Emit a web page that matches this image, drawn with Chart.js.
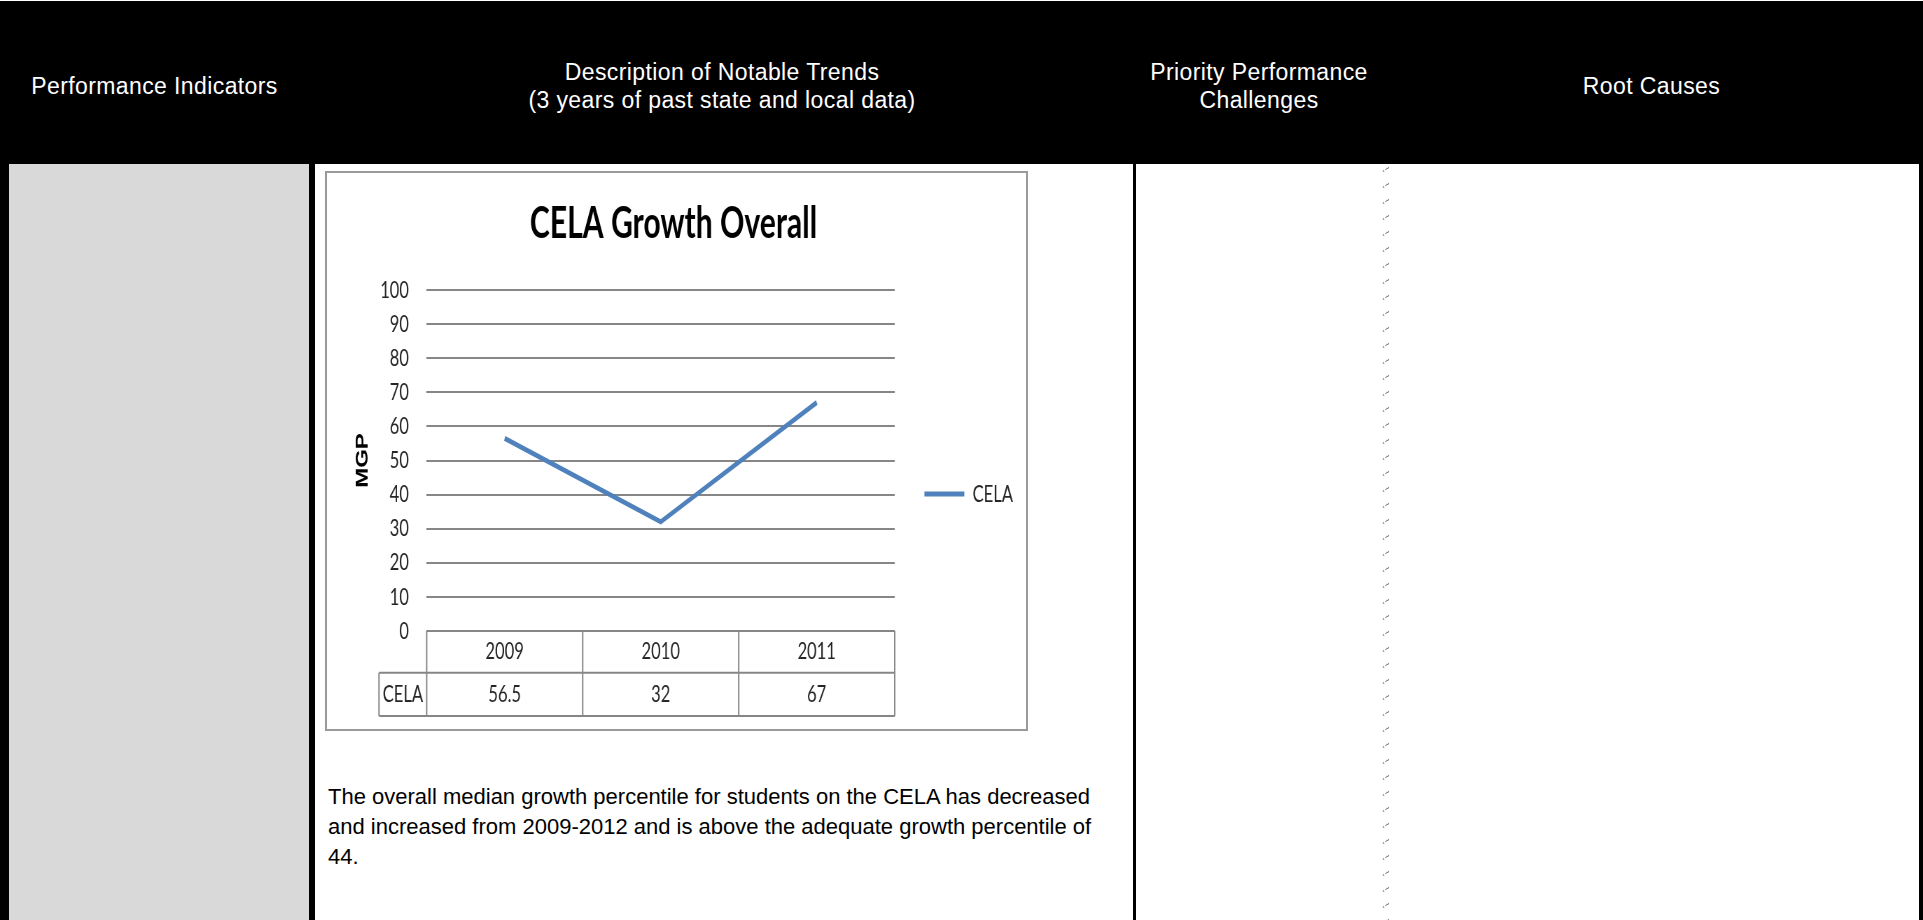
<!DOCTYPE html>
<html>
<head>
<meta charset="utf-8">
<title>CELA Growth Overall</title>
<script src="https://cdn.jsdelivr.net/npm/chart.js@4.4.1/dist/chart.umd.min.js"></script>
<style>
  html, body { margin: 0; padding: 0; background: #fff; }
  body { width: 1923px; height: 920px; position: relative; overflow: hidden;
         font-family: "Liberation Sans", Arial, sans-serif; }
  .abs { position: absolute; }
  .hdr { left: 0; top: 1px; width: 1923px; height: 163px; background: #000; }
  .hcell { position: absolute; top: 0; height: 163px; display: flex; align-items: center;
           justify-content: center; text-align: center; color: #fff; font-size: 23px;
           letter-spacing: 0.4px; line-height: 28px; padding-top: 6px; box-sizing: border-box; }
  .black { background: #000; }
  .grey { background: #d9d9d9; }
  .dots { left: 1382px; top: 164px; width: 8px; height: 756px;
          background-image: url("data:image/svg+xml;utf8,<svg xmlns='http://www.w3.org/2000/svg' width='8' height='16'><circle cx='1.5' cy='7' r='0.8' fill='%23777'/><path d='M3.5 5.5 L7 3.5' stroke='%23666' stroke-width='1'/></svg>");
          background-repeat: repeat-y; }
  .frame { left: 325px; top: 171px; width: 703px; height: 560px; box-sizing: border-box;
           border: 2px solid #9a9a9a; background: #fff; overflow: hidden; }
  #chart { position: absolute; left: 0; top: 0; transform: scaleX(0.7); transform-origin: 0 0; }
  .para { left: 328px; top: 782px; font-size: 22px; line-height: 30px; color: #000; white-space: nowrap; }
</style>
</head>
<body>
  <!-- header row -->
  <div class="abs hdr">
    <div class="hcell" style="left:0;width:309px;">Performance Indicators</div>
    <div class="hcell" style="left:309px;width:826px;">Description of Notable Trends<br>(3 years of past state and local data)</div>
    <div class="hcell" style="left:1135px;width:248px;">Priority Performance<br>Challenges</div>
    <div class="hcell" style="left:1383px;width:537px;">Root Causes</div>
  </div>

  <!-- body row: cell fills and borders -->
  <div class="abs black" style="left:0;top:164px;width:9px;height:756px;"></div>
  <div class="abs grey" style="left:9px;top:164px;width:300px;height:756px;"></div>
  <div class="abs black" style="left:309px;top:164px;width:6px;height:756px;"></div>
  <div class="abs black" style="left:1133px;top:164px;width:3px;height:756px;"></div>
  <div class="abs dots"></div>
  <div class="abs black" style="left:1919px;top:164px;width:4px;height:756px;"></div>

  <!-- chart -->
  <div class="abs frame">
    <canvas id="chart" width="999" height="556" style="width:999px;height:556px;"></canvas>
  </div>

  <div class="abs para">The overall median growth percentile for students on the CELA has decreased<br>and increased from 2009-2012 and is above the adequate growth percentile of<br>44.</div>

<script>
// Chart data
const years = ['2009', '2010', '2011'];
const celaMgp = [56.5, 32, 67];
const seriesName = 'CELA';
const axisTitle = 'MGP';
const chartTitle = 'CELA Growth Overall';
const yMin = 0;
const yMax = 100;
const yStep = 10;

const TEXT = '#262626';
const RULE = '#868686';
const LINE_BLUE = '#4F81BD';
const bodyFont = { family: 'Lato, "Open Sans", sans-serif', size: 23.7 };

// Excel-style data table drawn under the category axis
const dataTable = {
  id: 'dataTable',
  afterDraw(chart) {
    const { ctx, chartArea: area, scales: { x } } = chart;
    const n = years.length;
    const half = (x.getPixelForValue(1) - x.getPixelForValue(0)) / 2;
    const edges = years.map((_, i) => x.getPixelForValue(i) - half);
    edges.push(x.getPixelForValue(n - 1) + half);
    const y0 = area.bottom;
    const y1 = y0 + 41.7;
    const y2 = y1 + 43.3;
    const labelLeft = 74.3;

    ctx.save();
    ctx.strokeStyle = RULE;
    ctx.lineWidth = 2;
    ctx.beginPath();
    ctx.moveTo(edges[0], y0); ctx.lineTo(edges[n], y0);
    ctx.moveTo(labelLeft, y1); ctx.lineTo(edges[n], y1);
    ctx.moveTo(labelLeft, y2); ctx.lineTo(edges[n], y2);
    edges.forEach(e => { ctx.moveTo(e, y0); ctx.lineTo(e, y2); });
    ctx.moveTo(labelLeft, y1); ctx.lineTo(labelLeft, y2);
    ctx.stroke();

    ctx.fillStyle = TEXT;
    ctx.font = `${bodyFont.size}px ${bodyFont.family}`;
    ctx.textAlign = 'center';
    ctx.textBaseline = 'middle';
    years.forEach((yr, i) => ctx.fillText(yr, x.getPixelForValue(i), (y0 + y1) / 2));
    celaMgp.forEach((v, i) => ctx.fillText(String(v), x.getPixelForValue(i), (y1 + y2) / 2));
    ctx.fillText(seriesName, (labelLeft + edges[0]) / 2, (y1 + y2) / 2);
    ctx.restore();
  }
};

function draw() {
  new Chart(document.getElementById('chart'), {
    type: 'line',
    data: {
      labels: years,
      datasets: [{
        label: seriesName,
        data: celaMgp,
        borderColor: LINE_BLUE,
        backgroundColor: LINE_BLUE,
        borderWidth: 5,
        pointRadius: 0,
        pointHoverRadius: 0,
        tension: 0,
        fill: false
      }]
    },
    options: {
      responsive: false,
      animation: false,
      devicePixelRatio: 1,
      events: [],
      layout: { padding: { left: 0, right: 9, top: 0, bottom: 0 } },
      plugins: {
        title: {
          display: true,
          text: chartTitle,
          color: '#000',
          font: { family: 'Lato, "Open Sans", sans-serif', weight: 'bold', size: 43, lineHeight: 1.2 },
          padding: { top: 25.2, bottom: 40.2 }
        },
        legend: {
          position: 'right',
          align: 'center',
          title: { display: true, text: '', font: { size: 10, lineHeight: 1.2 }, padding: 37 },
          labels: {
            usePointStyle: true,
            pointStyle: 'line',
            pointStyleWidth: 57,
            color: TEXT,
            font: bodyFont,
            padding: 42.4
          }
        },
        tooltip: { enabled: false }
      },
      scales: {
        x: {
          offset: true,
          grid: { display: false },
          border: { display: false },
          ticks: { display: false },
          afterFit(scale) { scale.height = 98; }
        },
        y: {
          min: yMin,
          max: yMax,
          ticks: { stepSize: yStep, padding: 25.3, color: TEXT, font: bodyFont },
          grid: { color: RULE, lineWidth: 2, drawTicks: false },
          border: { display: false },
          title: {
            display: true,
            text: axisTitle,
            color: '#000',
            font: { family: '"Liberation Sans", Arial, sans-serif', weight: 'bold', size: 24, lineHeight: 1.2 },
            padding: { top: 37, bottom: 0 }
          },
          afterFit(scale) { scale.width = 142.4; }
        }
      }
    },
    plugins: [dataTable]
  });
}

const fontLoads = [
  '23.7px Lato', 'bold 43px Lato', 'bold 24px "Liberation Sans"'
].map(f => document.fonts.load(f).catch(() => null));
Promise.all(fontLoads).then(draw, draw);
</script>
</body>
</html>
